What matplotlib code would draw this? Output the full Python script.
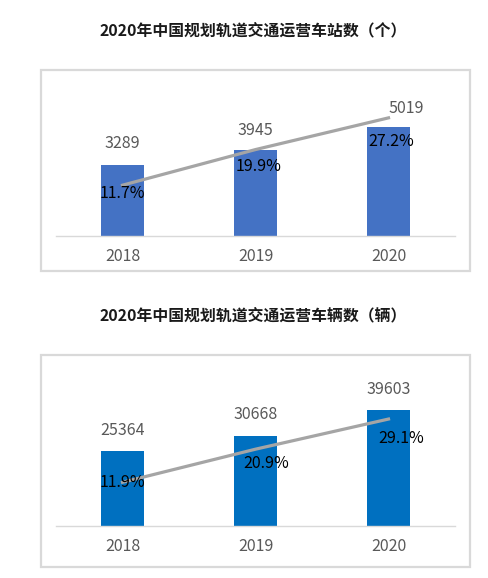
import matplotlib
matplotlib.use("Agg")
import matplotlib.pyplot as plt
from matplotlib.patches import Rectangle

plt.rcParams['font.family'] = ['Noto Sans CJK SC', 'DejaVu Sans']

years = ['2018', '2019', '2020']

# chart 1: stations
station_title = '2020年中国规划轨道交通运营车站数（个）'
stations = [3289, 3945, 5019]
station_growth = [11.7, 19.9, 27.2]

# chart 2: vehicles
vehicle_title = '2020年中国规划轨道交通运营车辆数（辆）'
vehicles = [25364, 30668, 39603]
vehicle_growth = [11.9, 20.9, 29.1]

GREY_TXT = '#595959'
LINE_C = '#A5A5A5'
BORDER = '#D9D9D9'


def draw(fig, rect, box, title_y, title, vals, growth, bar_color, ymax, pmax,
         val_off, pct_off):
    # outer frame
    fig.patches.append(Rectangle((box[0], box[1]), box[2], box[3],
                                 transform=fig.transFigure, fill=False,
                                 edgecolor=BORDER, linewidth=1.6))
    fig.text(0.519, title_y, title, ha='center', va='center',
             fontsize=11.4, fontweight='bold', color='#1a1a1a')

    ax = fig.add_axes(rect)
    x = range(len(years))
    ax.bar(x, vals, width=0.317, color=bar_color, zorder=2)
    ax.set_xlim(-0.5, 2.5)
    ax.set_ylim(0, ymax)
    ax.set_xticks(list(x))
    ax.set_xticklabels(years, fontsize=11.5, color=GREY_TXT)
    ax.tick_params(axis='x', length=0, pad=9)
    ax.set_yticks([])
    for s in ['top', 'left', 'right']:
        ax.spines[s].set_visible(False)
    ax.spines['bottom'].set_color(BORDER)
    ax.spines['bottom'].set_linewidth(1)
    ax.patch.set_alpha(0)

    for i, v in enumerate(vals):
        ax.annotate(str(v), (i, v), xytext=val_off[i], textcoords='offset points',
                    ha='center', va='center', fontsize=11.5, color=GREY_TXT)

    ax2 = ax.twinx()
    ax2.set_ylim(0, pmax)
    ax2.plot(list(x), growth, color=LINE_C, linewidth=2.3, zorder=3)
    ax2.set_yticks([])
    for s in ax2.spines.values():
        s.set_visible(False)
    for i, g in enumerate(growth):
        ax2.annotate(f'{g}%', (i, g), xytext=pct_off[i], textcoords='offset points',
                     ha='center', va='center', fontsize=11.5, color='black')


fig = plt.figure(figsize=(4.88, 5.78), dpi=100)

draw(fig, [0.1148, 0.5917, 0.8176, 0.263], [0.084, 0.531, 0.879, 0.348], 0.948,
     station_title, stations, station_growth, '#4472C4', 7000, 35,
     [(0, 15), (0, 14.5), (13, 13)], [(0, -6), (2, -12), (2, -17)])

draw(fig, [0.1148, 0.090, 0.8176, 0.2543], [0.084, 0.019, 0.879, 0.367], 0.455,
     vehicle_title, vehicles, vehicle_growth, '#0070C0', 50000, 40,
     [(0, 15), (0, 15), (0, 14.5)], [(0, 0), (8, -10), (9, -14)])

fig.savefig('out.png', dpi=100)
